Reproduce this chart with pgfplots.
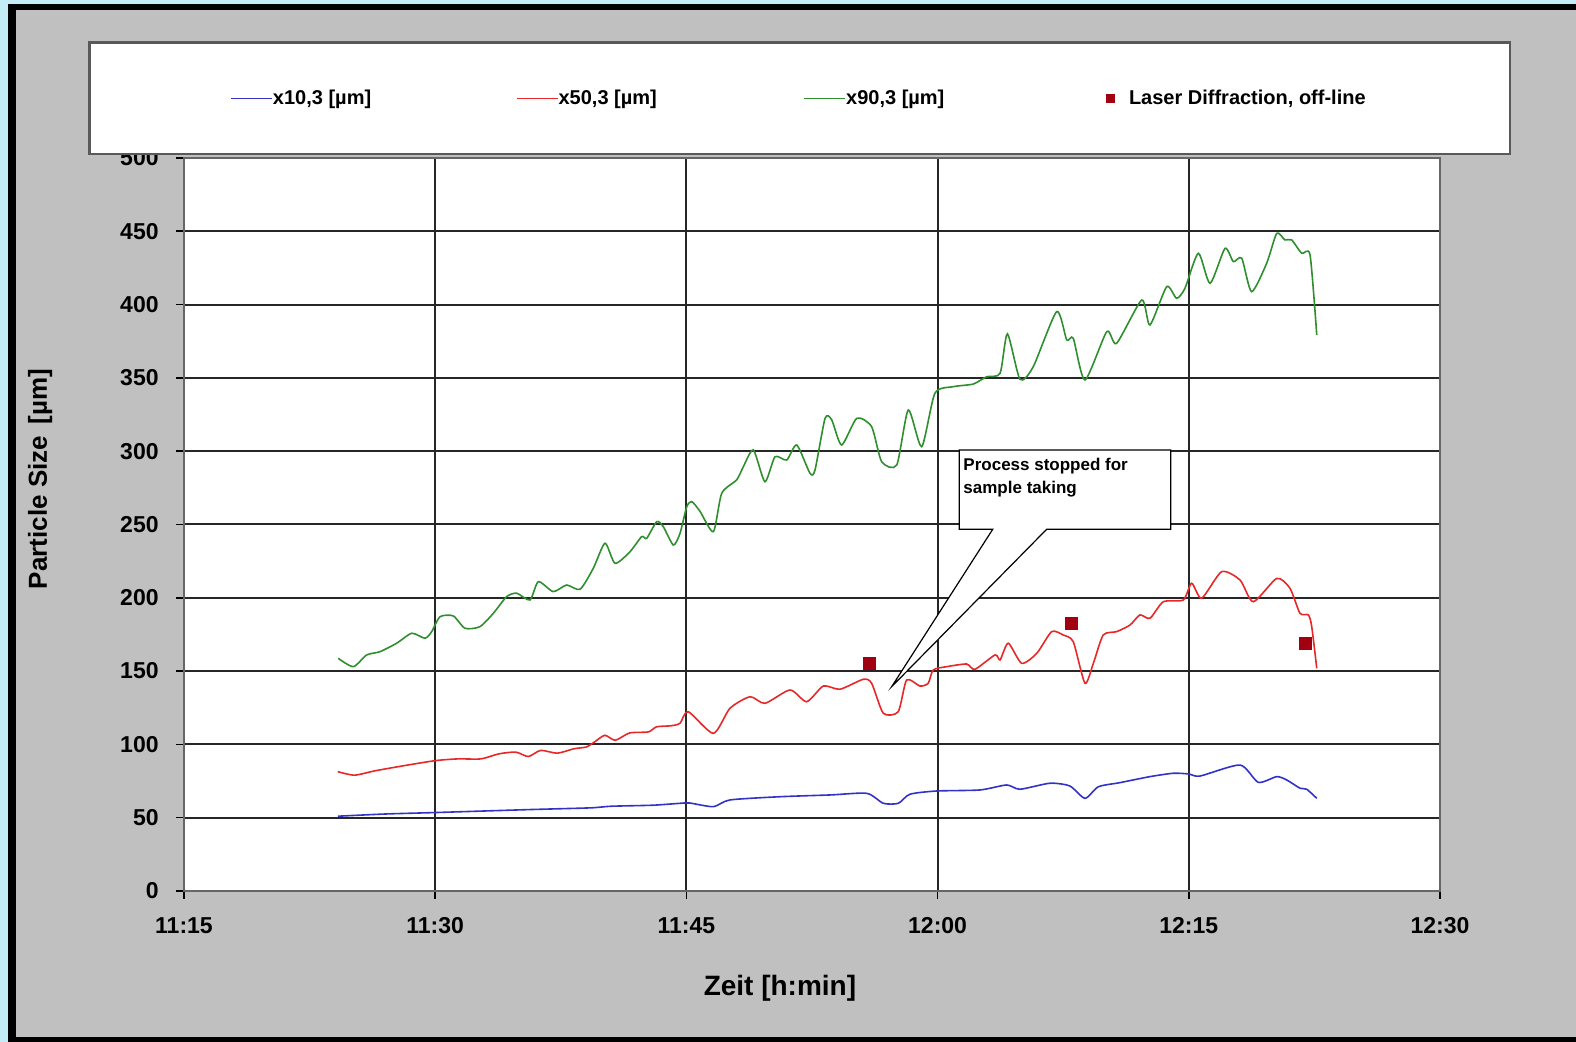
\documentclass[border=0pt]{standalone}
\usepackage{pgfplots}
\pgfplotsset{compat=1.18}
\usepackage{fontspec}
\setmainfont{Liberation Sans}

\definecolor{framecyan}{HTML}{C4ECF6}
\definecolor{panelgray}{HTML}{C0C0C0}
\definecolor{sblue}{HTML}{3232C8}
\definecolor{sred}{HTML}{E62828}
\definecolor{sgreen}{HTML}{2F8F2F}
\definecolor{ldred}{HTML}{A00010}

\pgfplotsset{
  layers/withpanel/.define layer set={
    panel,axis background,axis grid,axis ticks,axis lines,axis tick labels,
    pre main,main,axis descriptions,axis foreground
  }{/pgfplots/layers/standard},
  markerlegend/.style={
    legend image code/.code={\path (0pt,0pt) (15pt,0pt);
      \draw[##1, mark size=2pt] plot coordinates {(6pt,0pt)};}},
  series/.style={line width=0.8pt, smooth, tension=0.4},
}

\begin{document}
\begin{tikzpicture}
\begin{axis}[
  set layers=withpanel,
  scale only axis, width=628pt, height=366.5pt,
  xmin=0, xmax=75, ymin=0, ymax=500,
  xtick={0,15,30,45,60,75},
  xticklabels={11:15,11:30,11:45,12:00,12:15,12:30},
  ytick={0,50,...,500},
  axis background/.style={fill=white},
  grid=major,
  major grid style={black!85, line width=1pt},
  axis line style={black!60, line width=1.2pt},
  tick align=outside, xtick pos=bottom, ytick pos=left,
  major tick length=4pt,
  tick style={black, line width=0.8pt},
  /pgf/number format/assume math mode=true,
  ticklabel style={font=\bfseries\fontsize{11.5}{13}\selectfont, inner sep=0pt},
  xticklabel style={yshift=-9pt},
  yticklabel style={xshift=-8.5pt},
  xlabel={Zeit [h:min]},
  ylabel={Particle Size \,[µm]},
  xlabel style={font=\bfseries\fontsize{14}{16}\selectfont, at={(0.4745,-0.1323)}, anchor=center},
  ylabel style={font=\bfseries\fontsize{13}{15}\selectfont, at={(-0.1146,0.562)}, anchor=center},
  legend columns=4,
  legend cell align=left,
  legend style={at={(0.03662,1.0812)}, anchor=west, draw=none, fill=none,
    inner sep=0pt, column sep=0pt, nodes={inner sep=0pt},
    font=\bfseries\fontsize{10}{12}\selectfont},
  legend image code/.code={\draw[#1] (0pt,0pt) -- (20.5pt,0pt);},
  clip=false,
]

% grey panel with its frame, behind everything
\begin{pgfonlayer}{panel}
  \fill[framecyan] (rel axis cs:-0.146497,-0.206003) rectangle (rel axis cs:1.108280,1.215553);
  \fill[black] (rel axis cs:-0.140127,-0.206003) rectangle (rel axis cs:1.108280,1.210095);
  \fill[panelgray] (rel axis cs:-0.133758,-0.199181) rectangle (rel axis cs:1.108280,1.201910);
\end{pgfonlayer}

\addplot[sblue, series] table {
9.19 51.0
12.0 52.5
15.0 53.5
20.56 55.5
24.27 56.7
25.50 57.8
28.0 58.5
29.62 59.8
30.2 60.0
31.61 57.5
32.60 62.1
35.59 64.3
38.58 65.5
40.77 66.6
41.76 59.8
42.65 59.8
43.35 66.0
44.94 68.2
47.53 68.9
49.12 72.3
49.92 69.4
51.71 73.5
52.90 71.6
53.80 63.2
54.60 71.1
55.89 73.9
57.68 78.0
59.08 80.3
60.00 79.8
60.67 78.4
63.06 85.9
64.15 74.1
65.25 78.0
65.85 75.7
66.64 70.1
67.04 69.4
67.64 63.2
};
\addlegendentry{\makebox[121.5pt][l]{x10,3 [µm]}}

\addplot[sred, series] table {
9.18 81.4
10.18 79.0
11.42 82.0
13.15 85.5
15.00 88.9
16.36 90.1
17.72 90.1
18.83 93.6
19.82 94.7
20.56 91.7
21.30 95.9
22.29 94.0
23.28 97.0
24.02 98.2
24.51 101.6
25.13 106.2
25.75 102.8
26.61 107.8
27.73 108.5
28.22 112.0
29.09 112.7
29.62 114.4
30.11 122.3
31.61 107.5
32.60 124.6
33.80 132.5
34.69 128.0
36.19 137.1
37.18 129.1
38.18 139.8
39.17 137.6
40.56 144.4
41.06 141.7
41.76 121.2
42.65 122.3
43.15 143.9
43.95 139.8
44.44 141.7
44.74 150.8
45.54 153.0
46.73 154.8
47.23 151.2
48.43 161.0
48.73 157.6
49.22 169.0
50.02 155.3
50.92 162.1
51.81 176.9
52.50 174.6
53.10 170.0
53.80 141.7
54.30 155.3
54.89 174.6
55.69 176.9
56.49 181.4
57.08 188.3
57.68 186.0
58.48 197.3
59.67 198.5
60.17 209.9
60.77 199.7
61.96 217.8
63.06 212.1
63.85 197.3
65.25 213.2
66.04 206.5
66.64 189.4
67.14 188.3
67.34 180.3
67.64 151.9
};
\addlegendentry{\makebox[122.5pt][l]{x50,3 [µm]}}

\addplot[sgreen, series] table {
9.21 158.7
10.11 153.0
10.91 161.0
11.70 163.2
12.70 169.0
13.60 175.8
14.39 172.4
14.79 176.9
15.29 187.1
16.08 187.6
16.78 179.2
17.67 180.3
18.47 189.4
19.27 200.8
19.87 203.1
20.66 198.5
21.16 211.0
22.05 204.2
22.85 208.7
23.65 205.8
24.44 220.1
25.14 237.2
25.74 223.5
26.63 231.4
27.33 241.7
27.63 240.6
28.23 251.9
28.62 248.5
29.22 236.0
29.62 244.0
30.02 262.1
30.32 265.6
30.81 259.0
31.61 245.1
32.11 271.3
33.00 280.4
33.40 289.4
34.00 300.8
34.69 279.2
35.29 296.2
35.99 294.0
36.59 304.2
37.38 284.9
37.68 287.2
38.28 322.4
38.68 321.3
39.27 304.2
40.17 322.4
41.06 316.7
41.66 292.8
42.56 290.6
43.25 328.1
44.05 303.1
44.84 339.5
45.94 344.0
47.13 345.8
47.93 350.8
48.73 353.1
49.17 380.0
49.92 349.0
50.71 357.6
52.11 395.2
52.71 375.9
53.10 377.0
53.80 348.6
55.10 381.5
55.69 373.6
57.19 403.1
57.68 386.1
58.68 412.2
59.27 404.3
59.77 411.1
60.57 435.0
61.27 414.5
62.16 438.3
62.66 429.3
63.16 431.6
63.75 408.8
64.65 428.2
65.25 448.6
65.74 444.1
66.14 444.1
66.74 435.0
67.24 433.8
67.64 379.3
};
\addlegendentry{\makebox[126pt][l]{x90,3 [µm]}}

\addplot[only marks, mark=square*, mark size=3pt, ldred, markerlegend] table {
40.92 155.3
52.96 182.6
66.98 169.0
};
\addlegendentry{Laser Diffraction, off-line}

% callout
\draw[black, line width=0.6pt, fill=white]
  (46.29,300.8) -- (58.92,300.8) -- (58.92,246.7) -- (51.51,246.7)
  -- (42.26,139.4) -- (48.29,246.7) -- (46.29,246.7) -- cycle;
\node[anchor=north west, inner sep=0pt, align=left,
  font=\bfseries\fontsize{8.5}{11.5}\selectfont]
  at (46.52,295.5) {Process stopped for\\sample taking};

% legend frame
\draw[black!65, line width=1.2pt, fill=white]
  (rel axis cs:-0.0754,1.00546) rectangle (rel axis cs:1.0557,1.1578);
\end{axis}
\end{tikzpicture}
\end{document}
